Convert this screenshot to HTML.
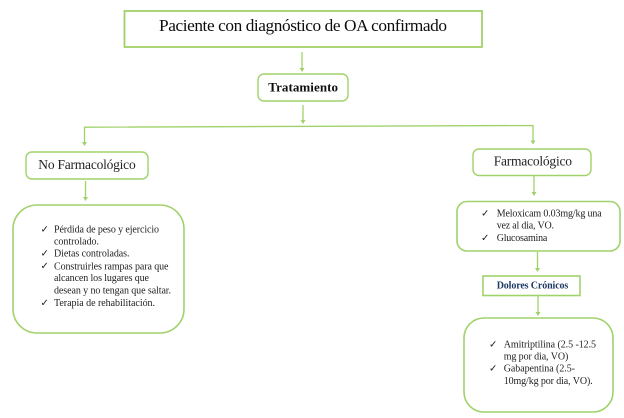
<!DOCTYPE html>
<html>
<head>
<meta charset="utf-8">
<style>
html,body{margin:0;padding:0;background:#fff;width:624px;height:418px;overflow:hidden}
svg{display:block}
text{font-family:"Liberation Serif",serif;fill:#222}
.b{font-size:10px}
.c{font-size:10px;font-family:"DejaVu Sans",sans-serif}
</style>
</head>
<body>
<svg width="624" height="418" viewBox="0 0 624 418" xmlns="http://www.w3.org/2000/svg">
<defs>
<filter id="s" x="-5%" y="-5%" width="110%" height="110%"><feGaussianBlur stdDeviation="0.35"/></filter>
</defs>
<g filter="url(#s)">
<g fill="#fff" stroke="#a0d26a" stroke-width="1.8">
<rect x="124.5" y="11" width="357.500" height="36"/>
<rect x="258" y="74" width="90" height="27" rx="6" stroke-width="1.4"/>
<rect x="26" y="152" width="122" height="27" rx="6" stroke-width="1.4"/>
<rect x="473" y="149" width="118" height="26.500" rx="6" stroke-width="1.4"/>
<rect x="13" y="205" width="171" height="128" rx="24" stroke-width="1.6"/>
<rect x="457" y="201.500" width="163" height="49.500" rx="10" stroke-width="1.6"/>
<rect x="483" y="276" width="97" height="19.500" stroke-width="1.6"/>
<rect x="464" y="318" width="149" height="94" rx="20" stroke-width="1.6"/>
</g>
<g fill="none" stroke="#a0d26a" stroke-width="1.3">
<path d="M302 52V69"/>
<path d="M303 105V122"/>
<path d="M84.500 145V127.200L533 125.500V142"/>
<path d="M85.500 181V198"/>
<path d="M534 176V193"/>
<path d="M537.500 252V269"/>
<path d="M538 296V313"/>
</g>
<g fill="#a0d26a">
<path d="M299.500 68h5l-2.500 4z"/>
<path d="M300.500 120h5l-2.500 4z"/>
<path d="M82 142h5l-2.500 4z"/>
<path d="M530.500 140.500h5l-2.500 4z"/>
<path d="M83 197h5l-2.500 4z"/>
<path d="M531.500 192h5l-2.500 4z"/>
<path d="M535 268h5l-2.500 4z"/>
<path d="M535.500 312h5l-2.500 4z"/>
</g>
<text x="159" y="31" font-size="17.300" textLength="288" style="fill:#111">Paciente con diagnóstico de OA confirmado</text>
<text x="268.300" y="91.500" font-size="13" font-weight="bold" textLength="69.700" style="fill:#111">Tratamiento</text>
<text x="38.300" y="169" font-size="13.500" textLength="97.400">No Farmacológico</text>
<text x="493.700" y="165.500" font-size="13.500" textLength="78.300">Farmacológico</text>

<text class="c" x="40.500" y="232.500">✓</text>
<text class="b" x="54" y="232.700" textLength="105">Pérdida de peso y ejercicio</text>
<text class="b" x="54" y="244.300" textLength="45">controlado.</text>
<text class="c" x="40.500" y="256.500">✓</text>
<text class="b" x="54" y="256.700" textLength="75.500">Dietas controladas.</text>
<text class="c" x="40.500" y="269">✓</text>
<text class="b" x="54" y="269.300" textLength="114.500">Construirles rampas para que</text>
<text class="b" x="54" y="281" textLength="95">alcancen los lugares que</text>
<text class="b" x="54" y="293.300" textLength="117">desean y no tengan que saltar.</text>
<text class="c" x="40.500" y="306">✓</text>
<text class="b" x="54" y="306" textLength="101">Terapia de rehabilitación.</text>

<text class="c" x="481" y="216.500">✓</text>
<text class="b" x="496.700" y="216.700" textLength="105">Meloxicam 0.03mg/kg una</text>
<text class="b" x="496.700" y="228.700" textLength="57.300">vez al dia, VO.</text>
<text class="c" x="481" y="241">✓</text>
<text class="b" x="496.700" y="241" textLength="50.600">Glucosamina</text>

<text x="496.700" y="288.500" font-size="10" font-weight="bold" textLength="71.600" style="fill:#1f3864">Dolores Crónicos</text>

<text class="c" x="489" y="347.500">✓</text>
<text class="b" x="503.700" y="347.700" textLength="92.300">Amitriptilina (2.5 -12.5</text>
<text class="b" x="503.700" y="359.300" textLength="64.600">mg por dia, VO)</text>
<text class="c" x="489" y="371.500">✓</text>
<text class="b" x="503.700" y="371.700" textLength="71.300">Gabapentina (2.5-</text>
<text class="b" x="503.700" y="384" textLength="89">10mg/kg por dia, VO).</text>
</g>
</svg>
</body>
</html>
